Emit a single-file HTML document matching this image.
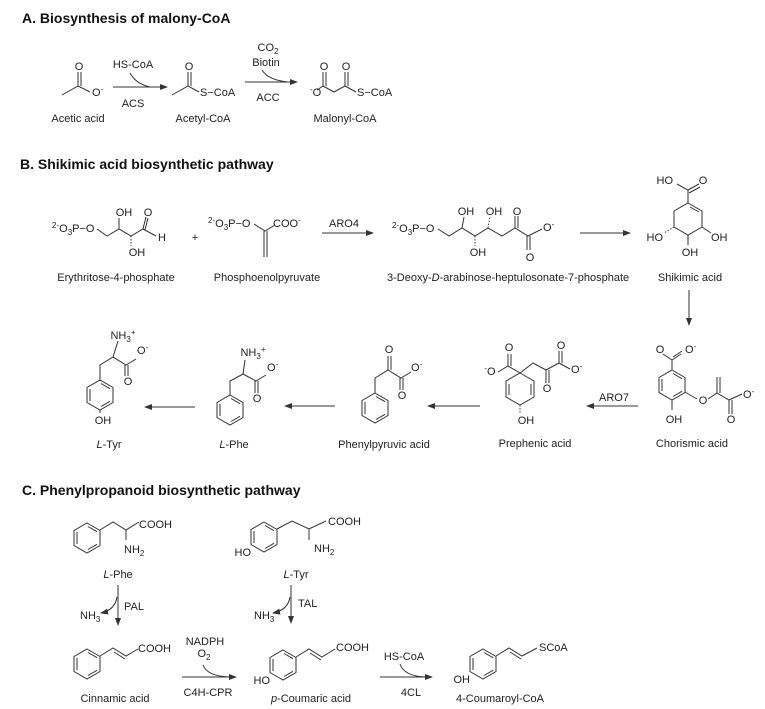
<!DOCTYPE html>
<html><head><meta charset="utf-8"><style>
html,body{margin:0;padding:0;background:#fff}
svg{display:block}
text{font-family:"Liberation Sans",Arial,sans-serif;font-size:11px;fill:#222}
.t{font-size:14px;font-weight:bold;fill:#111}
.l{stroke:#333;stroke-width:1;fill:none}
.m{text-anchor:middle}
.e{text-anchor:end}
</style></head><body>
<svg width="765" height="709" viewBox="0 0 765 709" xmlns="http://www.w3.org/2000/svg">
<defs>
<marker id="ar" markerWidth="8" markerHeight="6" refX="7" refY="3" orient="auto" markerUnits="userSpaceOnUse"><path d="M0,0 L8,3 L0,6 Z" fill="#333"/></marker>
<g id="bz"><polygon class="l" points="0,-15 13,-7.5 13,7.5 0,15 -13,7.5 -13,-7.5"/><path class="l" d="M1,-11.5 L10,-6.3 M10,6.3 L1,11.5 M-10,6 L-10,-6"/></g>
</defs>

<!-- A -->
<text x="22" y="23" class="t">A.  Biosynthesis of malony-CoA</text>
<path class="l" d="M62,95 L78,86 L90,92 M78,86 L78,72 M81,86 L81,72"/>
<text x="79" y="70" class="m">O</text><text x="92" y="96">O<tspan font-size="8" dy="-4">-</tspan></text>
<text x="78" y="122" class="m">Acetic acid</text>
<path class="l" d="M113,87 L167,87" marker-end="url(#ar)"/>
<path class="l" d="M130,73 Q136,84 150,87"/>
<text x="133" y="68" class="m">HS-CoA</text><text x="133" y="107" class="m">ACS</text>
<path class="l" d="M172,95 L188,86 L199,92 M188,86 L188,72 M191,86 L191,72"/>
<text x="189" y="70" class="m">O</text><text x="200" y="96">S−CoA</text>
<text x="203" y="122" class="m">Acetyl-CoA</text>
<path class="l" d="M245,82 L297,82" marker-end="url(#ar)"/>
<path class="l" d="M262,70 Q268,80 288,82"/>
<text x="268" y="51" class="m">CO<tspan font-size="8" dy="3">2</tspan></text>
<text x="266" y="66" class="m">Biotin</text><text x="268" y="101" class="m">ACC</text>
<text x="310" y="96"><tspan font-size="8" dy="-4">-</tspan><tspan dy="4">O</tspan></text>
<path class="l" d="M317,90 L323,86 L334,92 L345,86 L356,92 M323,86 L323,72 M326,86 L326,72 M345,86 L345,72 M348,86 L348,72"/>
<text x="324" y="70" class="m">O</text><text x="346" y="70" class="m">O</text>
<text x="357" y="96">S−CoA</text>
<text x="345" y="122" class="m">Malonyl-CoA</text>

<!-- B -->
<text x="20" y="169" class="t">B. Shikimic acid biosynthetic pathway</text>
<text x="52" y="232"><tspan font-size="8" dy="-4">2-</tspan><tspan dy="4">O</tspan><tspan font-size="8" dy="3">3</tspan><tspan dy="-3">P−O</tspan></text>
<path class="l" d="M97,229 L107,236 L119,229 L131,236 L143,229 L156,236 M119,229 L119,218 M143,229 L146,217 M145,230 L148,218"/>
<path d="M131,236 L131,246" stroke="#333" stroke-width="1" stroke-dasharray="1.5,1.5"/>
<text x="124" y="216" class="m">OH</text><text x="148" y="216" class="m">O</text><text x="158" y="241">H</text><text x="137" y="256" class="m">OH</text>
<text x="116" y="281" class="m">Erythritose-4-phosphate</text>
<text x="195" y="241" class="m">+</text>
<text x="208" y="227"><tspan font-size="8" dy="-4">2-</tspan><tspan dy="4">O</tspan><tspan font-size="8" dy="3">3</tspan><tspan dy="-3">P−O</tspan></text>
<path class="l" d="M254,224 L265,231 L275,225 M264,231 L264,257 M267,231 L267,257"/>
<text x="273" y="227">COO<tspan font-size="8" dy="-4">-</tspan></text>
<text x="267" y="281" class="m">Phosphoenolpyruvate</text>
<text x="344" y="227" class="m">ARO4</text>
<path class="l" d="M322,233 L373,233" marker-end="url(#ar)"/>
<text x="392" y="232"><tspan font-size="8" dy="-4">2-</tspan><tspan dy="4">O</tspan><tspan font-size="8" dy="3">3</tspan><tspan dy="-3">P−O</tspan></text>
<path class="l" d="M438,229 L449,236 L462,228 L475,236 L488,228 L502,236 L515,228 L528,236 L542,229 M462,228 L464,217 M515,228 L515,216 M518,228 L518,216 M527,236 L527,250 M530,236 L530,250"/>
<path d="M475,236 L475,246 M488,228 L490,217" stroke="#333" stroke-width="1" stroke-dasharray="1.5,1.5"/>
<text x="466" y="215" class="m">OH</text><text x="494" y="215" class="m">OH</text><text x="517" y="215" class="m">O</text>
<text x="543" y="231">O<tspan font-size="8" dy="-4">-</tspan></text>
<text x="478" y="256" class="m">OH</text><text x="530" y="261" class="m">O</text>
<text x="387" y="281">3-Deoxy-<tspan font-style="italic">D</tspan>-arabinose-heptulosonate-7-phosphate</text>
<path class="l" d="M580,233 L630,233" marker-end="url(#ar)"/>
<polygon class="l" points="688,203 702,211 702,227 688,235 674,227 674,211"/>
<path class="l" d="M690,207 L699,212 M688,203 L688,190 L677,184 M688,190 L699,184 M689,193 L700,187 M702,227 L711,233 M688,235 L688,245"/>
<path d="M674,227 L664,233" stroke="#333" stroke-width="1" stroke-dasharray="1.5,1.5"/>
<text x="673" y="184" class="e">HO</text><text x="703" y="184" class="m">O</text>
<text x="663" y="241" class="e">HO</text><text x="711" y="241">OH</text><text x="690" y="256" class="m">OH</text>
<text x="690" y="281" class="m">Shikimic acid</text>
<path class="l" d="M689,290 L689,325" marker-end="url(#ar)"/>

<!-- Row2 -->
<use href="#bz" x="672" y="385"/>
<path class="l" d="M672,370 L672,360 L663,354 M672,360 L681,354 M673,357 L682,351 M685,392 L697,399 M708,399 L717,393 L729,400 L742,394 M717,393 L717,377 M720,393 L720,377 M729,400 L729,414 M732,400 L732,414 M672,400 L672,410"/>
<text x="660" y="353" class="m">O</text><text x="685" y="353">O<tspan font-size="8" dy="-4">-</tspan></text>
<text x="703" y="404" class="m">O</text><text x="743" y="398">O<tspan font-size="8" dy="-4">-</tspan></text>
<text x="731" y="423" class="m">O</text><text x="674" y="423" class="m">OH</text>
<text x="692" y="447" class="m">Chorismic acid</text>
<text x="614" y="401" class="m">ARO7</text>
<path class="l" d="M638,406 L587,406" marker-end="url(#ar)"/>
<polygon class="l" points="520,373 534,381 534,397 520,405 506,397 506,381"/>
<path class="l" d="M509,384 L509,395 M531,384 L531,395 M520,373 L508,366 L498,372 M508,366 L508,354 M511,366 L511,354 M520,373 L533,363 L546,370 L559,363 L570,369 M546,370 L546,383 M549,370 L549,383 M559,363 L559,351 M562,363 L562,351"/>
<path d="M520,405 L520,414" stroke="#333" stroke-width="1" stroke-dasharray="1.5,1.5"/>
<text x="509" y="351" class="m">O</text><text x="490" y="375" class="m"><tspan font-size="8" dy="-4">-</tspan><tspan dy="4">O</tspan></text>
<text x="547" y="392" class="m">O</text><text x="561" y="349" class="m">O</text><text x="571" y="373">O<tspan font-size="8" dy="-4">-</tspan></text>
<text x="526" y="424" class="m">OH</text>
<text x="535" y="447" class="m">Prephenic acid</text>
<path class="l" d="M480,406 L428,406" marker-end="url(#ar)"/>
<use href="#bz" x="375" y="408"/>
<path class="l" d="M375,393 L375,378 L388,370 L401,378 L411,372 M388,370 L388,356 M391,370 L391,356 M400,378 L400,390 M403,378 L403,390"/>
<text x="389" y="353" class="m">O</text><text x="411" y="371">O<tspan font-size="8" dy="-4">-</tspan></text><text x="402" y="399" class="m">O</text>
<text x="384" y="448" class="m">Phenylpyruvic acid</text>
<path class="l" d="M335,406 L285,406" marker-end="url(#ar)"/>
<use href="#bz" x="230" y="410"/>
<path class="l" d="M230,395 L230,381 L243,374 L256,381 L266,375 M243,374 L245,360 M255,381 L255,393 M258,381 L258,393"/>
<text x="253" y="356" class="m">NH<tspan font-size="8" dy="3">3</tspan><tspan font-size="8" dy="-7">+</tspan></text>
<text x="267" y="371">O<tspan font-size="8" dy="-4">-</tspan></text><text x="257" y="402" class="m">O</text>
<text x="234" y="448" class="m"><tspan font-style="italic">L</tspan>-Phe</text>
<path class="l" d="M195,407 L145,407" marker-end="url(#ar)"/>
<use href="#bz" x="100" y="395"/>
<path class="l" d="M100,380 L100,365 L113,357 L126,365 L136,359 M113,357 L118,341 M125,365 L125,376 M128,365 L128,376 M100,410 L100,413"/>
<text x="123" y="339" class="m">NH<tspan font-size="8" dy="3">3</tspan><tspan font-size="8" dy="-7">+</tspan></text>
<text x="137" y="354">O<tspan font-size="8" dy="-4">-</tspan></text><text x="128" y="385" class="m">O</text>
<text x="103" y="424" class="m">OH</text>
<text x="109" y="448" class="m"><tspan font-style="italic">L</tspan>-Tyr</text>

<!-- C -->
<text x="22" y="495" class="t">C. Phenylpropanoid biosynthetic pathway</text>
<use href="#bz" x="87" y="538"/>
<path class="l" d="M100,530 L113,522 L126,530 L139,522 M126,530 L126,540"/>
<text x="139" y="528">COOH</text><text x="124" y="553">NH<tspan font-size="8" dy="3">2</tspan></text>
<text x="118" y="578" class="m"><tspan font-style="italic">L</tspan>-Phe</text>
<path class="l" d="M118,585 L118,625" marker-end="url(#ar)"/>
<path class="l" d="M117,597 Q115,610 101,613" marker-end="url(#ar)"/>
<text x="80" y="619">NH<tspan font-size="8" dy="3">3</tspan></text><text x="124" y="610">PAL</text>
<use href="#bz" x="264" y="537"/>
<path class="l" d="M277,529 L292,521 L309,529 L326,521 M309,529 L309,540"/>
<text x="251" y="556" class="e">HO</text>
<text x="328" y="525">COOH</text><text x="314" y="552">NH<tspan font-size="8" dy="3">2</tspan></text>
<text x="296" y="578" class="m"><tspan font-style="italic">L</tspan>-Tyr</text>
<path class="l" d="M291,585 L291,623" marker-end="url(#ar)"/>
<path class="l" d="M290,597 Q288,610 273,613" marker-end="url(#ar)"/>
<text x="254" y="619">NH<tspan font-size="8" dy="3">3</tspan></text><text x="298" y="607">TAL</text>
<use href="#bz" x="87" y="664"/>
<path class="l" d="M100,656 L113,648 L126,656 L138,649 M114,652 L125,659"/>
<text x="138" y="652">COOH</text>
<text x="115" y="702" class="m">Cinnamic acid</text>
<text x="205" y="645" class="m">NADPH</text><text x="204" y="657" class="m">O<tspan font-size="8" dy="3">2</tspan></text>
<path class="l" d="M182,677 L236,677" marker-end="url(#ar)"/>
<path class="l" d="M203,665 Q207,676 229,677"/>
<text x="208" y="696" class="m">C4H-CPR</text>
<use href="#bz" x="283" y="665"/>
<path class="l" d="M296,657 L309,649 L322,657 L335,649 M310,653 L321,660"/>
<text x="270" y="684" class="e">HO</text><text x="336" y="651">COOH</text>
<text x="311" y="702" class="m"><tspan font-style="italic">p</tspan>-Coumaric acid</text>
<text x="404" y="660" class="m">HS-CoA</text>
<path class="l" d="M380,677 L432,677" marker-end="url(#ar)"/>
<path class="l" d="M400,664 Q404,676 425,677"/>
<text x="411" y="696" class="m">4CL</text>
<use href="#bz" x="483" y="664"/>
<path class="l" d="M496,656 L509,648 L522,656 L537,648 M510,652 L521,659"/>
<text x="470" y="683" class="e">OH</text><text x="539" y="651">SCoA</text>
<text x="500" y="702" class="m">4-Coumaroyl-CoA</text>
</svg>
</body></html>
